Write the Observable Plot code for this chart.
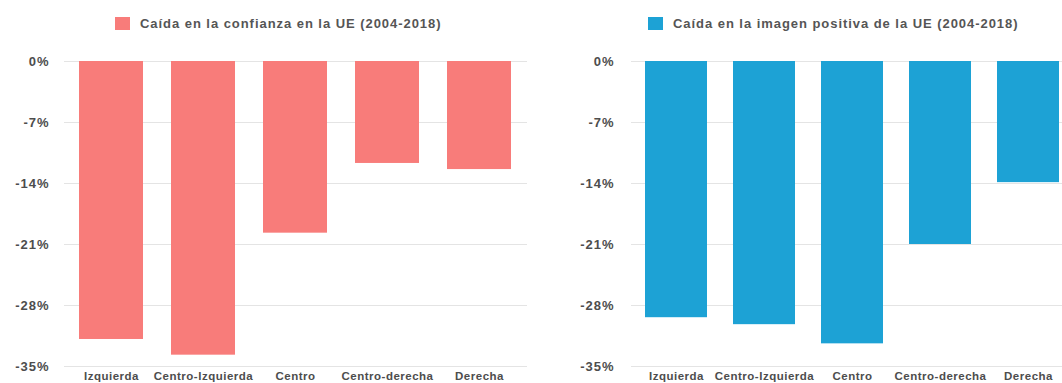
<!DOCTYPE html>
<html><head><meta charset="utf-8">
<script src="https://cdn.jsdelivr.net/npm/d3@7"></script>
<script src="https://cdn.jsdelivr.net/npm/@observablehq/plot@0.6"></script>
<style>
body{margin:0;background:#fff;font-family:"Liberation Sans",Arial,sans-serif;}
#wrap{position:relative;width:1062px;height:383px;overflow:hidden;background:#fff;}
.legend{position:absolute;top:16px;height:15px;display:flex;align-items:center;font-weight:bold;font-size:13px;color:#555;letter-spacing:0.95px;white-space:nowrap;}
.sw{width:15px;height:13px;margin-right:10px;}
.chart{position:absolute;top:40px;width:560px;}
.chart svg{display:block;overflow:visible;max-width:none !important;}
</style></head>
<body>
<div id="wrap">
  <div class="legend" id="leg1" style="left:115px"><span class="sw" id="sw1"></span><span id="lt1"></span></div>
  <div class="legend" id="leg2" style="left:648px"><span class="sw" id="sw2"></span><span id="lt2"></span></div>
  <div class="chart" id="c1" style="left:0px"></div>
  <div class="chart" id="c2" style="left:531px"></div>
</div>
<script>
const categories = ["Izquierda", "Centro-Izquierda", "Centro", "Centro-derecha", "Derecha"];
const confianza = [-31.9, -33.7, -19.7, -11.7, -12.4];
const imagen = [-29.4, -30.2, -32.4, -21.0, -13.9];
const yTicks = [0, -7, -14, -21, -28, -35];
const seriesNames = ["Caída en la confianza en la UE (2004-2018)", "Caída en la imagen positiva de la UE (2004-2018)"];
const colors = ["#F87C7A", "#1DA2D5"];

document.getElementById("lt1").textContent = seriesNames[0];
document.getElementById("lt2").textContent = seriesNames[1];
document.getElementById("sw1").style.background = colors[0];
document.getElementById("sw2").style.background = colors[1];

function chart(values, color, width, ml, mr, pi, po, tp) {
  const data = categories.map((c, i) => ({cat: c, v: values[i]}));
  const svg = Plot.plot({
    width, height: 343,
    marginTop: 21, marginBottom: 17, marginLeft: ml, marginRight: mr,
    style: {fontFamily: '"Liberation Sans", Arial, sans-serif', background: "transparent", color: "#4d4d4d", maxWidth: "none"},
    x: {domain: categories, paddingInner: pi, paddingOuter: po, axis: null, label: null},
    y: {domain: [-35, 0], axis: null, label: null},
    marks: [
      Plot.gridY(yTicks, {stroke: "#e4e4e4", strokeOpacity: 1, strokeWidth: 1}),
      Plot.axisY(yTicks, {tickSize: 0, tickPadding: tp, tickFormat: d => d + "%", fontSize: 13, fontWeight: "bold", fill: "#4d4d4d", label: null}),
      Plot.axisX({tickSize: 0, tickPadding: 5, fontSize: 11.5, fontWeight: "bold", fill: "#4d4d4d", label: null}),
      Plot.barY(data, {x: "cat", y: "v", fill: color})
    ]
  });
  svg.style.maxWidth = "none";
  svg.querySelectorAll('g[aria-label="y-axis tick label"] text').forEach(t => t.setAttribute("letter-spacing", "1"));
  svg.querySelectorAll('g[aria-label="x-axis tick label"] text').forEach(t => t.setAttribute("letter-spacing", "0.5"));
  return svg;
}

document.getElementById("c1").appendChild(chart(confianza, colors[0], 531, 64, 4, 0.3, 0.15, 15));
document.getElementById("c2").appendChild(chart(imagen, colors[1], 543, 100, 0, 0.29, 0.135, 17));
</script>
</body></html>
